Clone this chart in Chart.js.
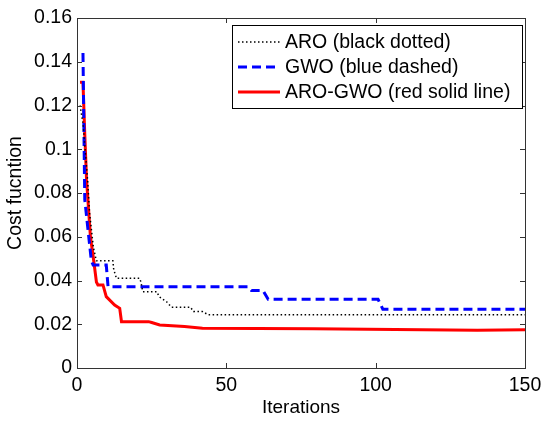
<!DOCTYPE html>
<html>
<head>
<meta charset="utf-8">
<script src="https://cdn.jsdelivr.net/npm/chart.js@4/dist/chart.umd.min.js"></script>
<style>
html, body { margin: 0; padding: 0; background: #fff; }
#wrap { width: 550px; height: 422px; }
</style>
</head>
<body>
<div id="wrap"><canvas id="chart" width="550" height="422"></canvas></div>
<script>
// values (iteration, cost)
const aroIter = [1, 2, 3.6, 4.2, 5.5, 6.5, 12, 12.3, 13.2, 21, 21.5, 22, 26.7, 27.5, 30, 31.6, 38, 39, 42, 44, 150];
const aroCost = [0.120, 0.112, 0.085, 0.071, 0.055, 0.049, 0.049, 0.045, 0.041, 0.041, 0.0388, 0.0349, 0.0349, 0.0326, 0.0303, 0.0278, 0.0278, 0.0258, 0.0258, 0.0243, 0.0243];

const gwoIter = [2, 2.6, 3.7, 4.8, 5.4, 9.8, 10.4, 57.3, 58.4, 62.3, 64, 100.8, 102.4, 150];
const gwoCost = [0.144, 0.077, 0.063, 0.049, 0.0471, 0.0471, 0.0372, 0.0372, 0.0354, 0.0354, 0.0314, 0.0314, 0.0269, 0.0269];

const hybIter = [1, 2, 2.6, 3.2, 4.5, 5.6, 6.5, 7, 8.7, 9.8, 12.6, 14.3, 14.9, 24, 25, 27.7, 36, 42, 79, 134, 150];
const hybCost = [0.1306, 0.1306, 0.107, 0.086, 0.060, 0.049, 0.0393, 0.038, 0.038, 0.0326, 0.0288, 0.0273, 0.0212, 0.0212, 0.0208, 0.0197, 0.0190, 0.0182, 0.0180, 0.0173, 0.0175];

const seriesNames = ["ARO (black dotted)", "GWO (blue dashed)", "ARO-GWO (red solid line)"];
const xTickLabels = ["0", "50", "100", "150"];
const yTickLabels = ["0", "0.02", "0.04", "0.06", "0.08", "0.1", "0.12", "0.14", "0.16"];

const pts = (xs, ys) => xs.map((x, i) => ({ x: x, y: ys[i] }));
const FONT = "Arial, 'Liberation Sans', sans-serif";

// MATLAB-style box with inward ticks on all four sides
const boxTicks = {
    id: "boxTicks",
    afterDraw(chart) {
        const { ctx, chartArea: a, scales } = chart;
        ctx.save();
        ctx.strokeStyle = "#333"; ctx.lineWidth = 1;
        ctx.strokeRect(Math.round(a.left) + 0.5, Math.round(a.top) + 0.5, Math.round(a.right - a.left), Math.round(a.bottom - a.top));
        ctx.beginPath();
        scales.x.ticks.forEach(t => {
            const px = Math.round(scales.x.getPixelForValue(t.value)) + 0.5;
            ctx.moveTo(px, a.bottom); ctx.lineTo(px, a.bottom - 5);
            ctx.moveTo(px, a.top); ctx.lineTo(px, a.top + 5);
        });
        scales.y.ticks.forEach(t => {
            const py = Math.round(scales.y.getPixelForValue(t.value)) + 0.5;
            ctx.moveTo(a.left, py); ctx.lineTo(a.left + 5, py);
            ctx.moveTo(a.right, py); ctx.lineTo(a.right - 5, py);
        });
        ctx.stroke();
        ctx.restore();
    }
};

// legend box in the upper right, as in the figure
const legendBox = {
    id: "legendBox",
    afterDraw(chart) {
        const c = chart.ctx;
        const x0 = 232, y0 = 25, w = 290, h = 83;
        c.save();
        c.fillStyle = "#fff"; c.fillRect(x0, y0, w, h);
        c.strokeStyle = "#000"; c.lineWidth = 1; c.strokeRect(x0 + 0.5, y0 + 0.5, w, h);
        chart.data.datasets.forEach((ds, i) => {
            const y = y0 + 17 + i * 25;
            c.beginPath();
            c.setLineDash(ds.borderDash || []);
            c.strokeStyle = ds.borderColor; c.lineWidth = ds.borderWidth;
            c.moveTo(x0 + 6, y); c.lineTo(x0 + 48, y); c.stroke();
            c.setLineDash([]);
            c.fillStyle = "#000"; c.font = "19.5px " + FONT; c.textBaseline = "middle";
            c.fillText(ds.label, x0 + 53, y + 1);
        });
        c.restore();
    }
};

new Chart(document.getElementById("chart"), {
    type: "line",
    data: {
        datasets: [
            { label: seriesNames[0], data: pts(aroIter, aroCost), borderColor: "#000", borderWidth: 1.5, borderDash: [1.5, 2.5], pointRadius: 0, tension: 0, fill: false },
            { label: seriesNames[1], data: pts(gwoIter, gwoCost), borderColor: "#0000ff", borderWidth: 3, borderDash: [9, 5], pointRadius: 0, tension: 0, fill: false },
            { label: seriesNames[2], data: pts(hybIter, hybCost), borderColor: "#ff0000", borderWidth: 3, pointRadius: 0, tension: 0, fill: false }
        ]
    },
    options: {
        responsive: false, animation: false,
        layout: { padding: { top: 18, right: 25, left: 0, bottom: 0 } },
        plugins: { legend: { display: false }, tooltip: { enabled: false } },
        scales: {
            x: {
                type: "linear", min: 0, max: 150,
                grid: { display: false, drawTicks: false }, border: { display: false },
                ticks: { stepSize: 50, padding: 6, color: "#000", font: { size: 19.5, family: FONT },
                    callback: (v) => xTickLabels[Math.round(v / 50)] },
                title: { display: true, text: "Iterations", color: "#000", font: { size: 19, family: FONT }, padding: { top: 0, bottom: 3 } },
                afterFit: (s) => { s.height = 54; }
            },
            y: {
                min: 0, max: 0.16,
                grid: { display: false, drawTicks: false }, border: { display: false },
                ticks: { stepSize: 0.02, padding: 5, color: "#000", font: { size: 19.5, family: FONT },
                    callback: (v) => yTickLabels[Math.round(v / 0.02)] },
                title: { display: true, text: "Cost fucntion", color: "#000", font: { size: 19.5, family: FONT }, padding: { top: 4, bottom: 0 } },
                afterFit: (s) => { s.width = 77; }
            }
        }
    },
    plugins: [boxTicks, legendBox]
});
</script>
</body>
</html>
